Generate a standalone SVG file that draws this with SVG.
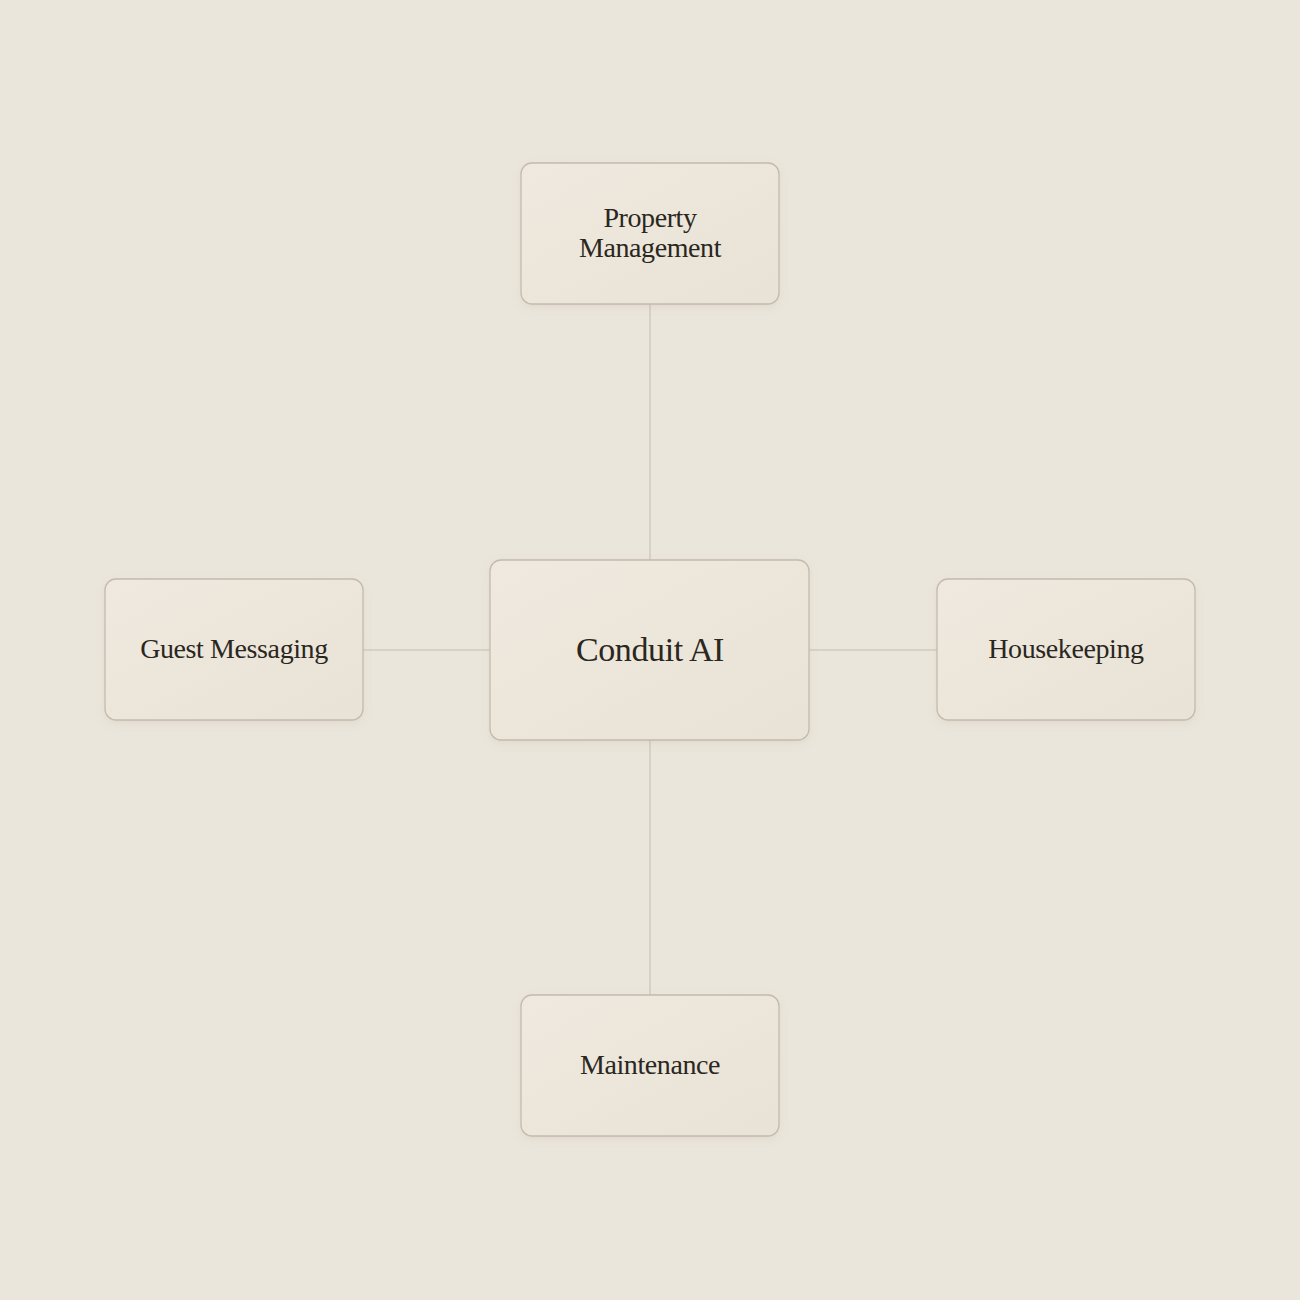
<svg xmlns="http://www.w3.org/2000/svg" width="1300" height="1300" viewBox="0 0 1300 1300">
<defs>
<linearGradient id="g" x1="0" y1="0" x2="1" y2="1">
<stop offset="0" stop-color="#EFE9DF"/>
<stop offset="1" stop-color="#E9E2D6"/>
</linearGradient>
<filter id="sh" x="-10%" y="-10%" width="120%" height="130%">
<feDropShadow dx="0" dy="3" stdDeviation="4" flood-color="#8a7f6c" flood-opacity="0.12"/>
</filter>
<style>
.box{fill:url(#g);stroke:#C4BAAE;stroke-width:1.3;filter:url(#sh)}
.lbl{font-family:"Liberation Serif",serif;fill:#2A2620;text-anchor:middle;letter-spacing:-0.4px}
.con{stroke:#D2CBBF;stroke-width:1.5;fill:none}
</style>
</defs>
<rect width="1300" height="1300" fill="#EBE6DB"/>
<g id="connectors">
<line class="con" x1="650" y1="304" x2="650" y2="560"/>
<line class="con" x1="650" y1="740" x2="650" y2="995"/>
<line class="con" x1="363" y1="650" x2="490" y2="650"/>
<line class="con" x1="809" y1="650" x2="937" y2="650"/>
</g>
<g id="node-property">
<rect class="box" x="521" y="163" width="258" height="141" rx="11"/>
<text class="lbl" x="650" y="227" font-size="28">Property</text>
<text class="lbl" x="650" y="257" font-size="28">Management</text>
</g>
<g id="node-guest">
<rect class="box" x="105" y="579" width="258" height="141" rx="11"/>
<text class="lbl" x="234" y="658" font-size="28">Guest Messaging</text>
</g>
<g id="node-housekeeping">
<rect class="box" x="937" y="579" width="258" height="141" rx="11"/>
<text class="lbl" x="1066" y="658" font-size="28">Housekeeping</text>
</g>
<g id="node-maintenance">
<rect class="box" x="521" y="995" width="258" height="141" rx="11"/>
<text class="lbl" x="650" y="1074" font-size="28">Maintenance</text>
</g>
<g id="node-conduit">
<rect class="box" x="490" y="560" width="319" height="180" rx="11"/>
<text class="lbl" x="650" y="661" font-size="34">Conduit AI</text>
</g>
</svg>
